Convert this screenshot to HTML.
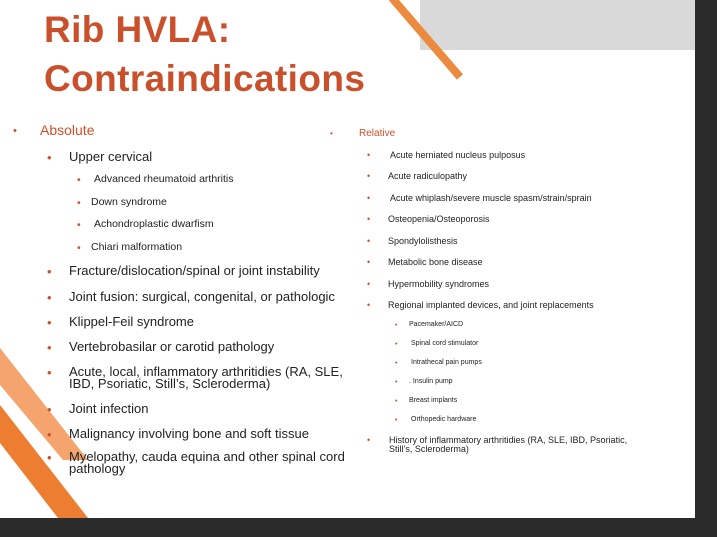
<!DOCTYPE html>
<html><head><meta charset="utf-8"><style>
body{margin:0;width:717px;height:537px;overflow:hidden;background:#2b2b2b;font-family:"Liberation Sans",Arial,sans-serif}
#slide{position:absolute;left:0;top:0;width:695px;height:518px;background:#fff;overflow:hidden}
.t{position:absolute;white-space:nowrap;color:#222;line-height:1}
.b{position:absolute;color:#d0502a;line-height:1}
h1{position:absolute;margin:0;left:44px;color:#c9502a;font-weight:bold;font-size:37px;letter-spacing:0.4px;line-height:1}
</style></head><body>
<div id="slide">
<div style="position:absolute;left:420px;top:0;width:275px;height:50px;background:#d9d9d9"></div>
<svg width="695" height="518" style="position:absolute;left:0;top:0">
<line x1="392" y1="-2" x2="460" y2="77" stroke="#ec8a3f" stroke-width="8"/>
<polygon points="0,348 88,460 63,460 0,385" fill="#f4a46c"/>
<polygon points="0,405 88,518 58,518 0,443" fill="#ed7d31"/>
</svg>
<h1 style="top:11px">Rib HVLA:</h1>
<h1 style="top:60px">Contraindications</h1>
<div id="content"></div>
</div>
<script>
const items=[
[13,40,129,14,"Absolute",1],
[47,69,155,13,"Upper cervical"],
[77,94,178,10.5,"Advanced rheumatoid arthritis"],
[77,91,201,10.5,"Down syndrome"],
[77,94,223,10.5,"Achondroplastic dwarfism"],
[77,91,246,10.5,"Chiari malformation"],
[47,69,269,13,"Fracture/dislocation/spinal or joint instability"],
[47,69,295,13,"Joint fusion: surgical, congenital, or pathologic"],
[47,69,320,13,"Klippel-Feil syndrome"],
[47,69,345,13,"Vertebrobasilar or carotid pathology"],
[47,69,370,13,"Acute, local, inflammatory arthritidies (RA, SLE,<br>IBD, Psoriatic, Still’s, Scleroderma)"],
[47,69,407,13,"Joint infection"],
[47,69,432,13,"Malignancy involving bone and soft tissue"],
[47,69,455,13,"Myelopathy, cauda equina and other spinal cord<br>pathology"],
[330,359,131,10,"Relative",1],
[367,390,153,9,"Acute herniated nucleus pulposus"],
[367,388,174,9,"Acute radiculopathy"],
[367,390,196,9,"Acute whiplash/severe muscle spasm/strain/sprain"],
[367,388,217,9,"Osteopenia/Osteoporosis"],
[367,388,239,9,"Spondylolisthesis"],
[367,388,260,9,"Metabolic bone disease"],
[367,388,282,9,"Hypermobility syndromes"],
[367,388,303,9,"Regional implanted devices, and joint replacements"],
[395,409,323,7,"Pacemaker/AICD"],
[395,411,342,7,"Spinal cord stimulator"],
[395,411,361,7,"Intrathecal pain pumps"],
[395,409,380,7,". Insulin pump"],
[395,409,399,7,"Breast implants"],
[395,411,418,7,"Orthopedic hardware"],
[367,389,438,9,"History of inflammatory arthritidies (RA, SLE, IBD, Psoriatic,<br>Still’s, Scleroderma)"]
];
const c=document.getElementById('content');
items.forEach((it,i)=>{
  const [bx,tx,y0,fs,txt,head]=it;
  const y=y0+3;
  const b=document.createElement('div');b.className='b';
  
  
  b.style.left=bx+'px';b.style.top=(y-fs*0.55)+'px';b.style.fontSize=fs+'px';b.textContent='•';
  if(head){b.style.fontSize=(fs*0.8)+'px';b.style.top=(y-fs*0.45)+'px';}
  c.appendChild(b);
  const t=document.createElement('div');t.className='t';
  
  
  t.style.left=tx+'px';t.style.top=(y-fs*0.55)+'px';t.style.fontSize=fs+'px';
  t.style.lineHeight=(fs*0.95)+'px';
  if(head)t.style.color='#d0502a';
  t.innerHTML=txt;c.appendChild(t);
});
</script>
</body></html>
